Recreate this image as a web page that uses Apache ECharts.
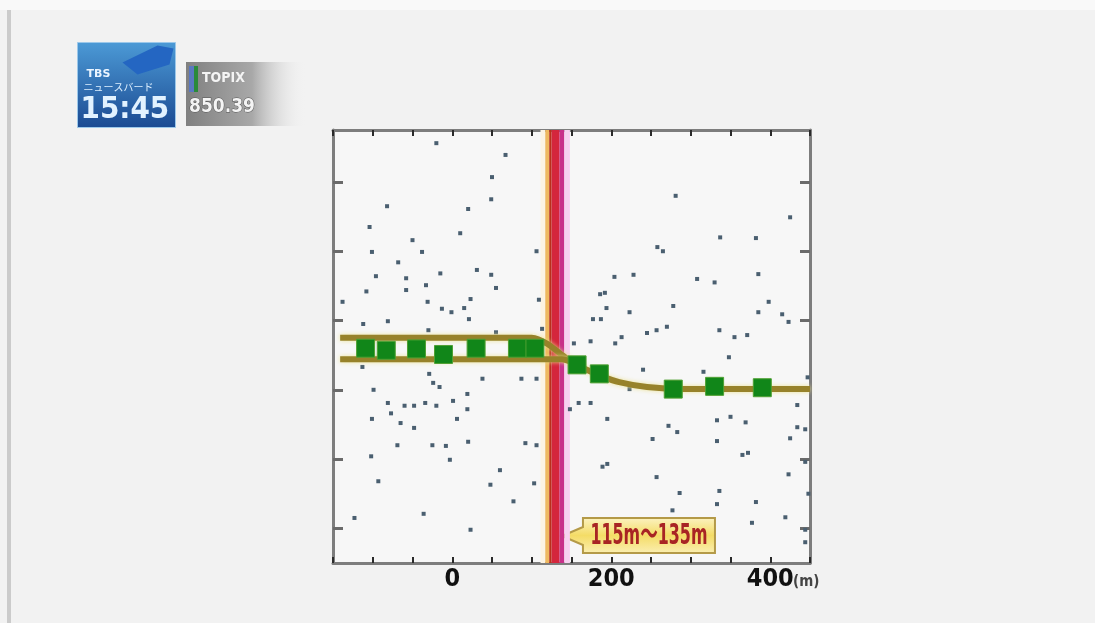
<!DOCTYPE html>
<html><head><meta charset="utf-8">
<script src="https://cdn.jsdelivr.net/npm/echarts@6/dist/echarts.min.js"></script>
<style>html,body{margin:0;padding:0;background:#f2f2f2;}#c{width:1095px;height:623px;}</style>
</head><body><div id="c"></div>
<script>
// ---- data ----
const xTickLabels = [0, 200, 400];
const xUnit = '(m)';
const zoneLabel = '115m〜135m';
const zoneRange = [115, 135];
const yTickValues = [50, 150, 250, 350, 450, 550];

const markerX = [-109, -83, -45, -11, 30, 82, 104, 157, 185, 278, 330, 390];
const markerY = [310, 307, 309, 301, 310, 310, 310, 286, 273, 251, 255, 253];

const bandUpperX = [-141, 100, 108, 120, 135, 150, 165, 185, 210, 245, 290, 450];
const bandUpperY = [325, 325, 323, 316, 303, 290, 281, 271, 261, 254, 251, 251];
const bandLowerX = [-141, 120, 138, 150];
const bandLowerY = [294, 294, 294, 290];

const dotX = [-20,67,50,49,-82,20,-104,10,-50,-101,-38,106,-68,31,-15,49,-96,-58,-33,-108,-58,55,-138,-31,23,109,-13,-1,15,-81,21,-112,-30,55,113,
281,425,337,382,258,265,204,228,308,330,385,186,192,398,194,223,278,177,187,385,415,423,213,205,245,257,270,336,355,371,153,174,
-113,-29,-24,-16,38,87,106,-99,19,-81,-60,-48,-34,-20,1,19,-77,-101,-65,6,-48,-69,-25,-8,20,92,106,-102,-3,60,-93,48,103,77,-123,-36,23,
348,240,316,447,159,174,148,434,195,333,350,369,272,283,434,444,252,333,425,365,372,189,195,444,257,423,286,336,333,382,448,277,419,377,444,444,223];
const dotY = [606,589,557,525,515,511,485,476,466,449,449,450,434,423,418,416,414,411,401,392,394,397,377,377,381,380,367,362,368,349,352,345,336,333,338,
530,499,470,469,456,450,413,416,410,405,417,388,390,377,368,362,371,352,352,362,359,348,326,317,332,336,341,336,326,329,317,320,
283,273,260,254,266,266,266,250,244,231,227,227,231,227,234,222,216,208,202,208,195,170,170,169,175,173,170,154,149,134,118,113,115,89,65,71,48,
297,279,276,268,231,231,222,228,208,206,211,203,198,189,196,193,179,176,180,156,159,139,143,146,124,128,101,104,85,88,100,76,66,58,48,30,251];

// ---- build ----
const zip = (xs, ys) => xs.map((x, i) => [x, ys[i]]);
const axisGray = '#7d7d7d';
const narrow = "'Liberation Sans Narrow','DejaVu Sans Condensed','Noto Sans CJK JP',sans-serif";

function xAx(pos, showLabel) {
  return {
    type: 'value', min: -150, max: 450, interval: 50, position: pos,
    axisLine: {show: true, onZero: false, lineStyle: {color: axisGray, width: 3}},
    axisTick: {show: true, inside: true, length: 6, lineStyle: {color: '#2a2a2a', width: 2}},
    axisLabel: {show: showLabel, margin: 4, formatter: v => xTickLabels.includes(v) ? String(v) : '',
      color: '#111', fontFamily: narrow, fontWeight: 'bold', fontSize: 25},
    splitLine: {show: false}
  };
}
function yAx(pos) {
  return {
    type: 'value', min: 0, max: 625, position: pos,
    axisLine: {show: true, onZero: false, lineStyle: {color: axisGray, width: 3}},
    axisTick: {show: true, inside: true, length: 10, customValues: yTickValues, lineStyle: {color: '#6a6a6a', width: 3}},
    axisLabel: {show: false},
    splitLine: {show: false}
  };
}

const chart = echarts.init(document.getElementById('c'));
const bandStops = [
  [111, 117, '#fcf3e2'], [117, 122, '#efb85e'], [122, 125, '#b8301a'], [125, 135, '#d4263c'],
  [135, 141, '#c8308a'], [141, 148, '#f7d0f0']
];
chart.setOption({
  backgroundColor: '#f2f2f2',
  animation: false,
  grid: {left: 333, top: 130, width: 477, height: 433, show: true, backgroundColor: '#f7f7f7', borderWidth: 0},
  xAxis: [xAx('bottom', true), xAx('top', false)],
  yAxis: [yAx('left'), yAx('right')],
  series: [
    {type: 'scatter', name: 'dots', data: zip(dotX, dotY), symbol: 'rect', symbolSize: [4, 4],
     itemStyle: {color: '#4a5f70', opacity: 1}, z: 2,
     markArea: {silent: true, z: 1, data: bandStops.map(b => [{xAxis: b[0], itemStyle: {color: b[2], opacity: 1}}, {xAxis: b[1]}])}},
    {type: 'line', name: 'upper', data: zip(bandUpperX, bandUpperY), smooth: 0.3, showSymbol: false,
     lineStyle: {color: '#97822a', width: 6, shadowColor: 'rgba(235,225,140,0.9)', shadowBlur: 4}, z: 3},
    {type: 'line', name: 'lower', data: zip(bandLowerX, bandLowerY), smooth: 0.3, showSymbol: false,
     lineStyle: {color: '#97822a', width: 6, shadowColor: 'rgba(235,225,140,0.9)', shadowBlur: 4}, z: 3},
    {type: 'scatter', name: 'markers', data: zip(markerX, markerY), symbol: 'rect', symbolSize: 18,
     itemStyle: {color: '#118619', borderColor: '#4fa032', borderWidth: 1, opacity: 1}, z: 4}
  ]
});

// annotations placed through the chart's own scales
const tip = chart.convertToPixel({xAxisIndex: 0, yAxisIndex: 0}, [138, 39]);
const unitPos = chart.convertToPixel({xAxisIndex: 0, yAxisIndex: 0}, [xTickLabels[2], 0]);

chart.setOption({
  graphic: [
    // page frame
    {type: 'rect', left: 0, top: 0, shape: {width: 1095, height: 10}, style: {fill: '#f9f9f9'}, silent: true},
    {type: 'rect', left: 7, top: 10, shape: {width: 4, height: 613}, style: {fill: '#cbcbcb'}, silent: true},
    // broadcaster badge
    {type: 'group', left: 77, top: 42, children: [
      {type: 'rect', shape: {width: 98, height: 85}, style: {
        fill: {type: 'linear', x: 0, y: 0, x2: 0, y2: 1, colorStops: [{offset: 0, color: '#4c9ad6'}, {offset: 1, color: '#1b4a92'}]},
        stroke: '#9cc8ea', lineWidth: 1}},
      {type: 'polygon', shape: {points: [[45, 20], [80, 3], [96, 6], [92, 22], [60, 32]]}, style: {fill: '#2466c2'}},
      {type: 'text', x: 9, y: 26, style: {text: 'TBS', fill: '#eaf4ff', font: 'bold 11px DejaVu Sans'}},
      {type: 'text', x: 6, y: 40, style: {text: 'ニュースバード', fill: '#dcefff', font: '10px "Noto Sans CJK JP"'}},
      {type: 'text', x: 3, y: 52, style: {text: '15:45', fill: '#e2f2ff', font: 'bold 31px "DejaVu Sans Condensed"'}}
    ]},
    {type: 'group', left: 186, top: 62, children: [
      {type: 'rect', shape: {width: 120, height: 64}, style: {
        fill: {type: 'linear', x: 0, y: 0, x2: 1, y2: 0, colorStops: [{offset: 0, color: '#808080'}, {offset: 0.55, color: '#a8a8a8'}, {offset: 1, color: 'rgba(242,242,242,0)'}]}}},
      {type: 'rect', shape: {x: 3, y: 4, width: 5, height: 26}, style: {fill: '#5a78c0'}},
      {type: 'rect', shape: {x: 8, y: 4, width: 4, height: 26}, style: {fill: '#2a8a3a'}},
      {type: 'text', x: 16, y: 9, style: {text: 'TOPIX', fill: '#f4f4f4', font: 'bold 14px "DejaVu Sans Condensed"'}},
      {type: 'text', x: 3, y: 36, style: {text: '850.39', fill: '#f4f4f4', stroke: '#555', lineWidth: 1, font: 'bold 19px "DejaVu Sans Condensed"'}}
    ]},
    // unit label
    {type: 'text', x: unitPos[0] + 36, y: unitPos[1] + 19, style: {text: xUnit, fill: '#444', font: 'bold 15px ' + narrow, align: 'center', verticalAlign: 'middle'}},
    // zone label with pointer
    {type: 'group', x: tip[0], y: tip[1], children: [
      {type: 'polygon', shape: {points: [[0, 0], [21, -9], [21, -18], [153, -18], [153, 17], [21, 17], [21, 9]]},
       style: {fill: {type: 'linear', x: 0, y: 0, x2: 0, y2: 1, colorStops: [{offset: 0, color: '#fcf3c4'}, {offset: 0.5, color: '#f4dc66'}, {offset: 1, color: '#fbefb4'}]},
         stroke: '#b49a48', lineWidth: 2}},
      {type: 'text', x: 87, y: 1, scaleX: 0.63, style: {text: zoneLabel, fill: '#a82424', font: 'bold 28px ' + narrow, align: 'center', verticalAlign: 'middle'}}
    ]}
  ]
});
</script></body></html>
